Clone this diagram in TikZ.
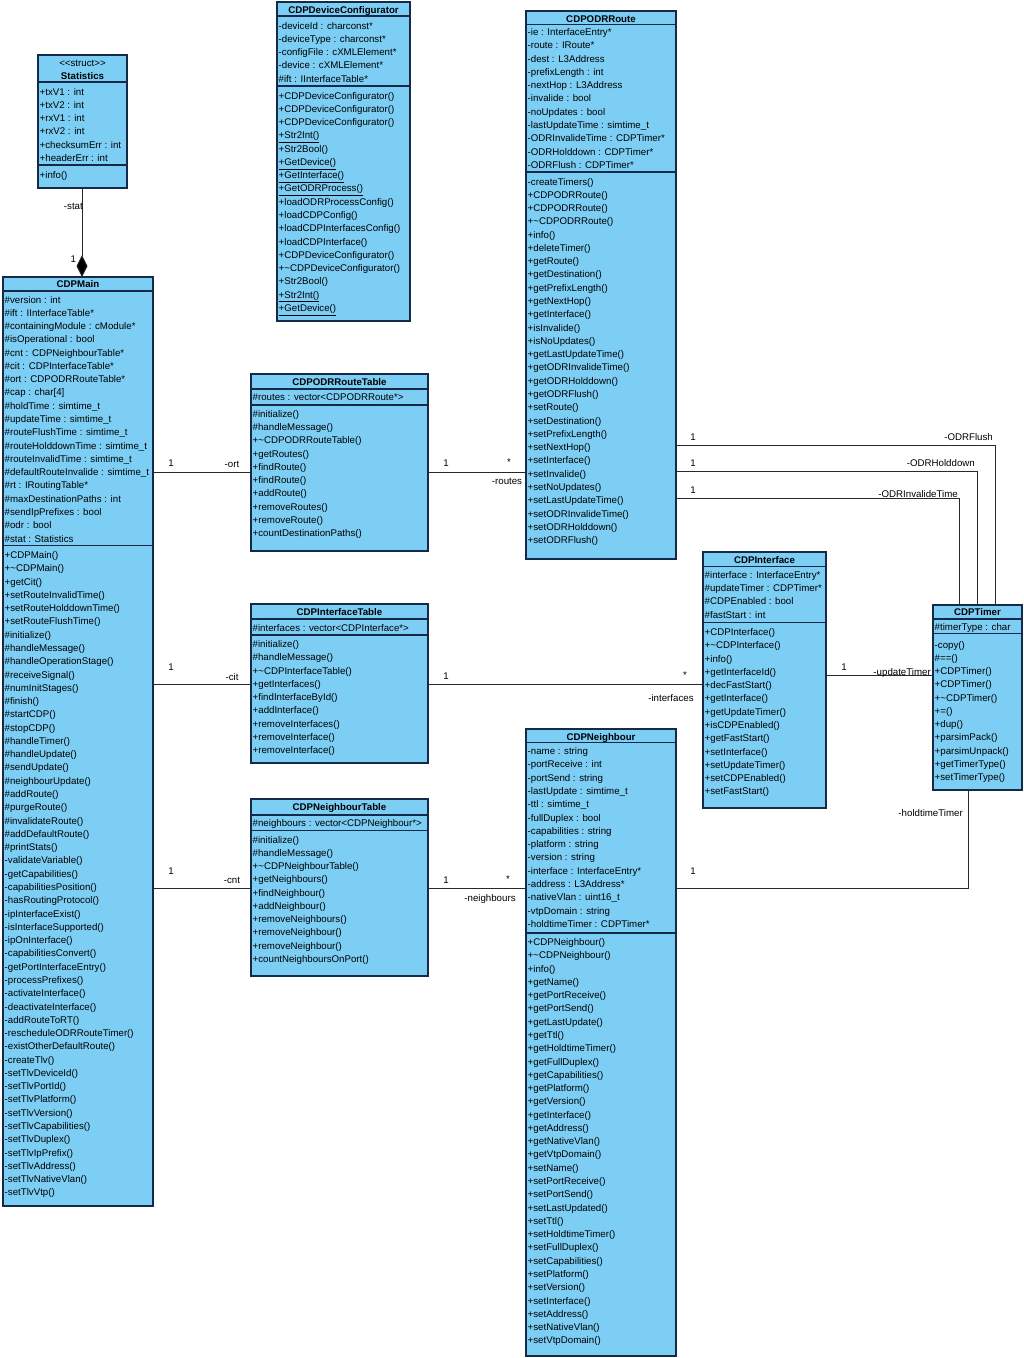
\documentclass[tikz,border=0pt]{standalone}
\usepackage{fontspec}
\setmainfont{Liberation Sans}
\usetikzlibrary{arrows.meta}
\definecolor{classfill}{RGB}{124,206,245}
\definecolor{classedge}{RGB}{20,42,72}
\definecolor{assocline}{RGB}{40,40,40}
\newcommand{\umlfont}{\fontsize{9.7}{13.28}\selectfont}
% one node per member line, baselines 13.28 apart
\newcommand{\members}[4]{%
  \foreach \m [count=\k from 0] in {#4}
    \node[member] (#3-\k) at (#1,{#2+\k*13.28}) {\m};}
\newcommand{\compartment}[2]{\draw[sepline] (#1.west |- 0,#2) -- (#1.east |- 0,#2);}
\newcommand{\dtor}{\textasciitilde}

\tikzset{
  classbox/.style={draw=classedge, fill=classfill, line width=1.2pt, anchor=north west, inner sep=0pt, outer sep=0pt},
  sepline/.style={draw=classedge, line width=1.2pt},
  member/.style={anchor=base west, inner sep=0pt, font=\umlfont},
  classtitle/.style={anchor=base, inner sep=0pt, font=\umlfont\bfseries},
  assoc/.style={draw=assocline, line width=0.9pt},
  rolelabel/.style={anchor=base, inner sep=0pt, font=\umlfont},
}

\begin{document}
\begin{tikzpicture}[x=1pt, y=-1pt]
\useasboundingbox (0,0) rectangle (1024,1358);

% Statistics
\node[classbox, minimum width=89pt, minimum height=133pt] (stats) at (38,55) {};
\node[rolelabel] (stats-s) at (82.5,66.5) {<{}<struct>{}>};
\node[classtitle] (stats-t) at (82.5,79) {Statistics};
\compartment{stats}{82}
\compartment{stats}{165}
\members{39.5}{95}{stats-a}{+txV1 : int, +txV2 : int, +rxV1 : int, +rxV2 : int, +checksumErr : int, +headerErr : int}
\members{39.5}{178}{stats-o}{+info()}

% CDPDeviceConfigurator
\node[classbox, minimum width=133pt, minimum height=319pt] (devconf) at (277,2) {};
\node[classtitle] (devconf-t) at (343.5,13.3) {CDPDeviceConfigurator};
\compartment{devconf}{16}
\compartment{devconf}{86}
\members{278.5}{29}{devconf-a}{-deviceId : charconst*, -deviceType : charconst*, -configFile : cXMLElement*, -device : cXMLElement*, \#ift : IInterfaceTable*}
\members{278.5}{99}{devconf-o}{+CDPDeviceConfigurator(), +CDPDeviceConfigurator(), +CDPDeviceConfigurator(), \underline{+Str2Int()}, +Str2Bool(), \underline{+GetDevice()}, \underline{+GetInterface()}, \underline{+GetODRProcess()}, +loadODRProcessConfig(), +loadCDPConfig(), +loadCDPInterfacesConfig(), +loadCDPInterface(), +CDPDeviceConfigurator(), +\dtor CDPDeviceConfigurator(), +Str2Bool(), \underline{+Str2Int()}, \underline{+GetDevice()}}

% CDPMain
\node[classbox, minimum width=150pt, minimum height=929pt] (main) at (3,277) {};
\node[classtitle] (main-t) at (78,287.5) {CDPMain};
\compartment{main}{291}
\compartment{main}{545.5}
\members{4.5}{303}{main-a}{\#version : int, \#ift : IInterfaceTable*, \#containingModule : cModule*, \#isOperational : bool, \#cnt : CDPNeighbourTable*, \#cit : CDPInterfaceTable*, \#ort : CDPODRRouteTable*, \#cap : char[4], \#holdTime : simtime\_t, \#updateTime : simtime\_t, \#routeFlushTime : simtime\_t, \#routeHolddownTime : simtime\_t, \#routeInvalidTime : simtime\_t, \#defaultRouteInvalide : simtime\_t, \#rt : IRoutingTable*, \#maxDestinationPaths : int, \#sendIpPrefixes : bool, \#odr : bool, \#stat : Statistics}
\members{4.5}{558.5}{main-o}{+CDPMain(), +\dtor CDPMain(), +getCit(), +setRouteInvalidTime(), +setRouteHolddownTime(), +setRouteFlushTime(), \#initialize(), \#handleMessage(), \#handleOperationStage(), \#receiveSignal(), \#numInitStages(), \#finish(), \#startCDP(), \#stopCDP(), \#handleTimer(), \#handleUpdate(), \#sendUpdate(), \#neighbourUpdate(), \#addRoute(), \#purgeRoute(), \#invalidateRoute(), \#addDefaultRoute(), \#printStats(), -validateVariable(), -getCapabilities(), -capabilitiesPosition(), -hasRoutingProtocol(), -ipInterfaceExist(), -isInterfaceSupported(), -ipOnInterface(), -capabilitiesConvert(), -getPortInterfaceEntry(), -processPrefixes(), -activateInterface(), -deactivateInterface(), -addRouteToRT(), -rescheduleODRRouteTimer(), -existOtherDefaultRoute(), -createTlv(), -setTlvDeviceId(), -setTlvPortId(), -setTlvPlatform(), -setTlvVersion(), -setTlvCapabilities(), -setTlvDuplex(), -setTlvIpPrefix(), -setTlvAddress(), -setTlvNativeVlan(), -setTlvVtp()}

% CDPODRRouteTable
\node[classbox, minimum width=177pt, minimum height=177pt] (ortable) at (251,374) {};
\node[classtitle] (ortable-t) at (339.5,385.5) {CDPODRRouteTable};
\compartment{ortable}{389}
\compartment{ortable}{405}
\members{252.5}{400.5}{ortable-a}{\#routes : vector<CDPODRRoute*>}
\members{252.5}{417.3}{ortable-o}{\#initialize(), \#handleMessage(), +\dtor CDPODRRouteTable(), +getRoutes(), +findRoute(), +findRoute(), +addRoute(), +removeRoutes(), +removeRoute(), +countDestinationPaths()}

% CDPInterfaceTable
\node[classbox, minimum width=177pt, minimum height=159pt] (citable) at (251,604) {};
\node[classtitle] (citable-t) at (339.5,615.5) {CDPInterfaceTable};
\compartment{citable}{619}
\compartment{citable}{635}
\members{252.5}{631}{citable-a}{\#interfaces : vector<CDPInterface*>}
\members{252.5}{647.5}{citable-o}{\#initialize(), \#handleMessage(), +\dtor CDPInterfaceTable(), +getInterfaces(), +findInterfaceById(), +addInterface(), +removeInterfaces(), +removeInterface(), +removeInterface()}

% CDPNeighbourTable
\node[classbox, minimum width=177pt, minimum height=177pt] (cntable) at (251,799) {};
\node[classtitle] (cntable-t) at (339.5,810.5) {CDPNeighbourTable};
\compartment{cntable}{815}
\compartment{cntable}{830.5}
\members{252.5}{826.5}{cntable-a}{\#neighbours : vector<CDPNeighbour*>}
\members{252.5}{843}{cntable-o}{\#initialize(), \#handleMessage(), +\dtor CDPNeighbourTable(), +getNeighbours(), +findNeighbour(), +addNeighbour(), +removeNeighbours(), +removeNeighbour(), +removeNeighbour(), +countNeighboursOnPort()}

% CDPODRRoute
\node[classbox, minimum width=150pt, minimum height=548pt] (odrroute) at (526,11) {};
\node[classtitle] (odrroute-t) at (601,22) {CDPODRRoute};
\compartment{odrroute}{24.5}
\compartment{odrroute}{172}
\members{527.5}{35.5}{odrroute-a}{-ie : InterfaceEntry*, -route : IRoute*, -dest : L3Address, -prefixLength : int, -nextHop : L3Address, -invalide : bool, -noUpdates : bool, -lastUpdateTime : simtime\_t, -ODRInvalideTime : CDPTimer*, -ODRHolddown : CDPTimer*, -ODRFlush : CDPTimer*}
\members{527.5}{185}{odrroute-o}{-createTimers(), +CDPODRRoute(), +CDPODRRoute(), +\dtor CDPODRRoute(), +info(), +deleteTimer(), +getRoute(), +getDestination(), +getPrefixLength(), +getNextHop(), +getInterface(), +isInvalide(), +isNoUpdates(), +getLastUpdateTime(), +getODRInvalideTime(), +getODRHolddown(), +getODRFlush(), +setRoute(), +setDestination(), +setPrefixLength(), +setNextHop(), +setInterface(), +setInvalide(), +setNoUpdates(), +setLastUpdateTime(), +setODRInvalideTime(), +setODRHolddown(), +setODRFlush()}

% CDPInterface
\node[classbox, minimum width=123pt, minimum height=256pt] (iface) at (703,552) {};
\node[classtitle] (iface-t) at (764.5,563) {CDPInterface};
\compartment{iface}{566.5}
\compartment{iface}{622.3}
\members{704.5}{578.3}{iface-a}{\#interface : InterfaceEntry*, \#updateTimer : CDPTimer*, \#CDPEnabled : bool, \#fastStart : int}
\members{704.5}{635.5}{iface-o}{+CDPInterface(), +\dtor CDPInterface(), +info(), +getInterfaceId(), +decFastStart(), +getInterface(), +getUpdateTimer(), +isCDPEnabled(), +getFastStart(), +setInterface(), +setUpdateTimer(), +setCDPEnabled(), +setFastStart()}

% CDPTimer
\node[classbox, minimum width=89pt, minimum height=185pt] (timer) at (933,605) {};
\node[classtitle] (timer-t) at (977.5,615.5) {CDPTimer};
\compartment{timer}{619}
\compartment{timer}{633.5}
\members{934.5}{630}{timer-a}{\#timerType : char}
\members{934.5}{648}{timer-o}{-copy(), \#==(), +CDPTimer(), +CDPTimer(), +\dtor CDPTimer(), +=(), +dup(), +parsimPack(), +parsimUnpack(), +getTimerType(), +setTimerType()}

% CDPNeighbour
\node[classbox, minimum width=150pt, minimum height=627pt] (neighbour) at (526,729) {};
\node[classtitle] (neighbour-t) at (601,740) {CDPNeighbour};
\compartment{neighbour}{742.5}
\compartment{neighbour}{933}
\members{527.5}{754.7}{neighbour-a}{-name : string, -portReceive : int, -portSend : string, -lastUpdate : simtime\_t, -ttl : simtime\_t, -fullDuplex : bool, -capabilities : string, -platform : string, -version : string, -interface : InterfaceEntry*, -address : L3Address*, -nativeVlan : uint16\_t, -vtpDomain : string, -holdtimeTimer : CDPTimer*}
\members{527.5}{945.5}{neighbour-o}{+CDPNeighbour(), +\dtor CDPNeighbour(), +info(), +getName(), +getPortReceive(), +getPortSend(), +getLastUpdate(), +getTtl(), +getHoldtimeTimer(), +getFullDuplex(), +getCapabilities(), +getPlatform(), +getVersion(), +getInterface(), +getAddress(), +getNativeVlan(), +getVtpDomain(), +setName(), +setPortReceive(), +setPortSend(), +setLastUpdated(), +setTtl(), +setHoldtimeTimer(), +setFullDuplex(), +setCapabilities(), +setPlatform(), +setVersion(), +setInterface(), +setAddress(), +setNativeVlan(), +setVtpDomain()}

% composition Statistics -> CDPMain
\draw[assoc, -{Diamond[length=22pt, width=11pt, fill=black]}] (stats.south -| 82,0) -- (main.north -| 82,0);
\node[rolelabel, anchor=base east] (stat-r) at (83,209.5) {-stat};
\node[rolelabel] (stat-m) at (73.3,262.5) {1};

% associations
\draw[assoc] (main.east |- 0,472) -- (ortable.west |- 0,472);
\draw[assoc] (ortable.east |- 0,472) -- (odrroute.west |- 0,472);
\draw[assoc] (main.east |- 0,684) -- (citable.west |- 0,684);
\draw[assoc] (citable.east |- 0,684) -- (iface.west |- 0,684);
\draw[assoc] (main.east |- 0,888) -- (cntable.west |- 0,888);
\draw[assoc] (cntable.east |- 0,888) -- (neighbour.west |- 0,888);
\draw[assoc] (iface.east |- 0,675) -- (timer.west |- 0,675);
\draw[assoc] (neighbour.east |- 0,888) -| (timer.south -| 968,0);
\draw[assoc] (odrroute.east |- 0,445) -| (timer.north -| 995,0);
\draw[assoc] (odrroute.east |- 0,471) -| (timer.north -| 977,0);
\draw[assoc] (odrroute.east |- 0,498) -| (timer.north -| 959,0);

% multiplicities and role names
\node[rolelabel] (ort-m1) at (171,466) {1};
\node[rolelabel] (ort-r) at (232,467) {-ort};
\node[rolelabel] (routes-m1) at (446,466) {1};
\node[rolelabel] (routes-m2) at (509,465) {*};
\node[rolelabel] (routes-r) at (507,484) {-routes};

\node[rolelabel] (cit-m1) at (171,670) {1};
\node[rolelabel] (cit-r) at (232,680) {-cit};
\node[rolelabel] (ifs-m1) at (446,679) {1};
\node[rolelabel] (ifs-m2) at (685,678) {*};
\node[rolelabel] (ifs-r) at (671,701.5) {-interfaces};

\node[rolelabel] (cnt-m1) at (171,874) {1};
\node[rolelabel] (cnt-r) at (232,883) {-cnt};
\node[rolelabel] (nbs-m1) at (446,883) {1};
\node[rolelabel] (nbs-m2) at (508,882) {*};
\node[rolelabel] (nbs-r) at (490,901) {-neighbours};

\node[rolelabel] (upd-m) at (844,670.5) {1};
\node[rolelabel, anchor=base east] (upd-r) at (931,675) {-updateTimer};
\node[rolelabel] (hold-m) at (693,874) {1};
\node[rolelabel, anchor=base east] (hold-r) at (963,816) {-holdtimeTimer};

\node[rolelabel] (flush-m) at (693,440) {1};
\node[rolelabel, anchor=base east] (flush-r) at (993,440) {-ODRFlush};
\node[rolelabel] (hdown-m) at (693,466.5) {1};
\node[rolelabel, anchor=base east] (hdown-r) at (975,466.5) {-ODRHolddown};
\node[rolelabel] (inval-m) at (693,493) {1};
\node[rolelabel, anchor=base east] (inval-r) at (958,497) {-ODRInvalideTime};
\end{tikzpicture}
\end{document}
